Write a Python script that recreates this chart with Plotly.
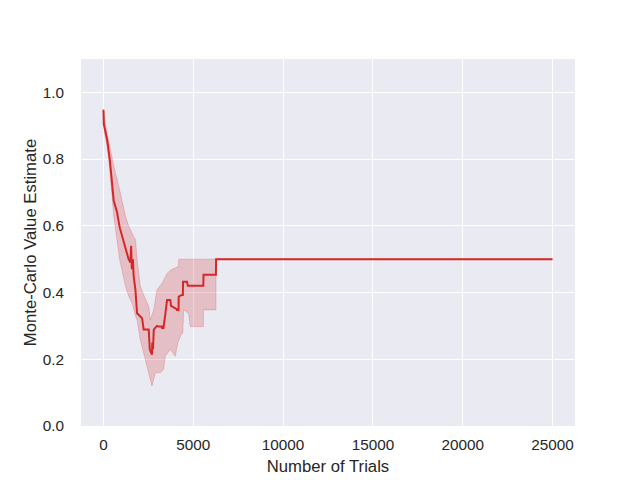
import plotly.graph_objects as go

# mean Monte-Carlo estimate
trials = [0, 20, 200, 350, 570, 760, 900, 1100, 1220, 1400, 1500, 1540, 1580, 1640, 1680,
          1780, 1870, 2150, 2240, 2520, 2580, 2700, 2720, 2760, 2800, 2980, 3070, 3250,
          3260, 3340, 3440, 3540, 3720, 3760, 4080, 4090, 4180, 4190, 4370, 4420, 4430,
          4650, 4700, 5560, 5570, 6260, 6270, 25000]
mean_est = [0.948, 0.905, 0.86, 0.80, 0.676, 0.64, 0.596, 0.56, 0.532, 0.50, 0.49, 0.54,
            0.47, 0.50, 0.45, 0.408, 0.338, 0.323, 0.289, 0.289, 0.229, 0.214, 0.25, 0.23,
            0.289, 0.30, 0.298, 0.298, 0.294, 0.294, 0.333, 0.378, 0.378, 0.36, 0.35, 0.348,
            0.348, 0.388, 0.393, 0.393, 0.432, 0.432, 0.42, 0.42, 0.453, 0.453, 0.5, 0.5]

# confidence band upper edge
hi_trials = [0, 50, 200, 350, 570, 760, 900, 1100, 1220, 1400, 1700, 1780, 1870, 2050,
             2240, 2520, 2610, 2800, 2980, 3260, 3540, 3720, 4130, 4180, 4190, 25000]
ci_high = [0.948, 0.93, 0.874, 0.84, 0.78, 0.74, 0.71, 0.66, 0.63, 0.60, 0.566, 0.56, 0.50,
           0.42, 0.393, 0.358, 0.318, 0.348, 0.408, 0.428, 0.457, 0.467, 0.477, 0.477,
           0.5, 0.5]

# confidence band lower edge
lo_trials = [0, 50, 200, 350, 570, 760, 900, 1100, 1220, 1400, 1600, 1780, 1870, 2050,
             2330, 2520, 2700, 2890, 3170, 3350, 3440, 3720, 4000, 4130, 4370, 4420, 4460,
             4740, 4830, 5560, 5570, 6260, 6270, 25000]
ci_low = [0.948, 0.88, 0.84, 0.77, 0.63, 0.55, 0.50, 0.45, 0.42, 0.39, 0.368, 0.33, 0.318,
          0.259, 0.199, 0.16, 0.12, 0.16, 0.16, 0.17, 0.209, 0.229, 0.209, 0.249, 0.279,
          0.279, 0.348, 0.338, 0.298, 0.298, 0.348, 0.348, 0.5, 0.5]

x_ticks = [0, 5000, 10000, 15000, 20000, 25000]
y_ticks = [0.0, 0.2, 0.4, 0.6, 0.8, 1.0]

red = "#d62728"
band = "rgba(214,39,40,0.22)"

fig = go.Figure()
fig.add_trace(go.Scatter(x=lo_trials, y=ci_low, mode="lines", line=dict(color=band, width=1),
                         showlegend=False, hoverinfo="skip"))
fig.add_trace(go.Scatter(x=hi_trials, y=ci_high, mode="lines", line=dict(color=band, width=1),
                         fill="tonexty", fillcolor=band, showlegend=False, hoverinfo="skip"))
fig.add_trace(go.Scatter(x=trials, y=mean_est, mode="lines", line=dict(color=red, width=2),
                         showlegend=False))

font_family = "Liberation Sans, Arial, sans-serif"
fig.update_layout(
    width=640, height=480,
    margin=dict(l=73, r=73, t=51, b=62),
    paper_bgcolor="white",
    plot_bgcolor="#EAEAF2",
    font=dict(family=font_family, color="#262626", size=15.3),
    xaxis=dict(range=[-1250, 26250], tickvals=x_ticks, tickformat="d", automargin=False,
               showgrid=True, gridcolor="white", gridwidth=1.3, zeroline=False,
               showline=False, ticks="outside", ticklen=5, tickcolor="rgba(0,0,0,0)",
               tickfont=dict(size=15.3),
               title=dict(text="Number of Trials", font=dict(size=16.7), standoff=7)),
    yaxis=dict(range=[0, 1.1], tickvals=y_ticks, tickformat=".1f", automargin=False,
               showgrid=True, gridcolor="white", gridwidth=1.3, zeroline=False,
               showline=False, ticks="outside", ticklen=13, tickcolor="rgba(0,0,0,0)",
               tickfont=dict(size=15.3),
               title=dict(text="Monte-Carlo Value Estimate", font=dict(size=16.7), standoff=1)),
)

fig.write_html("out.html")
